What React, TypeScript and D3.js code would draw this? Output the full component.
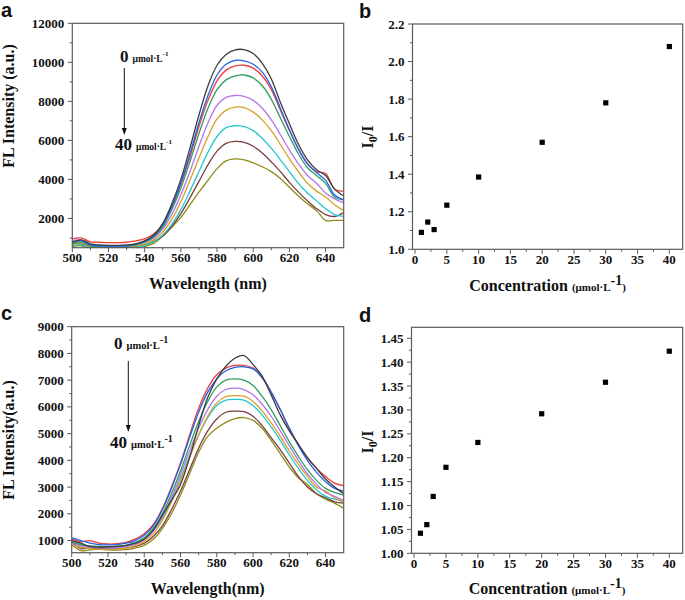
import React from 'react';
import * as d3 from 'd3';

// ---------- data ----------
const wavelengths = [500, 505, 510, 515, 520, 525, 530, 535, 540, 545, 550, 555, 560, 565, 570, 575, 580, 585, 590, 595, 600, 605, 610, 615, 620, 625, 630, 635, 640, 645, 650];

// panel a spectra (0 -> 40 µmol/L)
const aBlack = [750, 900, 700, 640, 620, 620, 640, 700, 850, 1150, 1750, 2750, 4000, 5600, 7300, 8800, 9850, 10400, 10640, 10650, 10450, 9950, 9150, 7950, 6850, 5800, 5000, 4500, 4200, 3500, 3150];
const aBlue = [800, 850, 650, 600, 580, 580, 600, 680, 820, 1100, 1650, 2600, 3800, 5300, 6900, 8300, 9350, 9900, 10100, 10080, 9900, 9500, 8750, 7650, 6550, 5550, 4800, 4350, 3950, 3200, 2950];
const aRed = [950, 1000, 800, 780, 760, 760, 780, 850, 950, 1200, 1700, 2600, 3750, 5150, 6700, 8050, 9050, 9600, 9820, 9850, 9700, 9300, 8600, 7550, 6500, 5550, 4800, 4400, 4300, 3500, 3400];
const aGreen = [700, 800, 600, 560, 540, 540, 560, 640, 780, 1050, 1550, 2450, 3550, 4900, 6350, 7650, 8600, 9100, 9300, 9350, 9200, 8800, 8100, 7150, 6200, 5300, 4600, 4200, 3800, 3100, 2950];
const aPurple = [850, 900, 650, 600, 580, 580, 600, 660, 780, 1000, 1450, 2200, 3200, 4400, 5700, 6900, 7800, 8200, 8300, 8250, 8050, 7650, 7050, 6300, 5500, 4800, 4200, 3800, 3300, 3000, 2800];
const aOrange = [650, 750, 550, 530, 520, 520, 540, 600, 700, 900, 1300, 1950, 2850, 3950, 5100, 6200, 7100, 7550, 7700, 7680, 7450, 7050, 6500, 5800, 5050, 4400, 3800, 3400, 3100, 2700, 2400];
const aCyan = [600, 650, 500, 480, 470, 470, 480, 530, 620, 800, 1150, 1700, 2450, 3400, 4400, 5400, 6200, 6650, 6750, 6700, 6500, 6100, 5600, 5000, 4400, 3800, 3300, 2900, 2500, 2200, 2100];
const aBrown = [700, 700, 550, 500, 480, 480, 500, 550, 650, 820, 1100, 1600, 2250, 3050, 3900, 4750, 5450, 5850, 5950, 5900, 5700, 5350, 4900, 4400, 3850, 3350, 2900, 2500, 2200, 2100, 2300];
const aOlive = [550, 600, 450, 430, 420, 420, 430, 480, 560, 720, 1100, 1550, 2050, 2700, 3350, 3950, 4550, 4950, 5050, 5000, 4850, 4650, 4400, 4050, 3600, 3150, 2750, 2400, 1900, 1900, 1900];

// panel c spectra (0 -> 40 µmol/L)
const cBlack = [1000, 900, 780, 750, 760, 780, 820, 900, 1050, 1400, 1950, 2500, 3100, 4100, 5300, 6350, 7050, 7520, 7820, 7920, 7580, 7150, 6450, 5700, 5100, 4600, 4100, 3700, 3300, 3000, 2750];
const cRed = [1050, 950, 1000, 900, 870, 880, 930, 1050, 1250, 1600, 2200, 3000, 3900, 4950, 5950, 6700, 7200, 7450, 7550, 7550, 7450, 7100, 6550, 5900, 5200, 4600, 4100, 3700, 3400, 3150, 3050];
const cBlue = [1100, 1000, 900, 850, 840, 850, 900, 1000, 1200, 1550, 2150, 2950, 3850, 4850, 5800, 6550, 7050, 7350, 7480, 7500, 7420, 7100, 6550, 5900, 5200, 4550, 4000, 3550, 3200, 2950, 2850];
const cGreen = [950, 850, 800, 780, 770, 780, 820, 920, 1100, 1450, 2000, 2750, 3600, 4550, 5450, 6200, 6750, 7000, 7050, 7000, 6800, 6400, 5900, 5300, 4700, 4150, 3650, 3250, 2950, 2800, 2700];
const cPurple = [900, 800, 750, 730, 720, 730, 770, 860, 1030, 1350, 1900, 2600, 3450, 4350, 5200, 5900, 6400, 6650, 6700, 6650, 6450, 6100, 5650, 5100, 4550, 4000, 3500, 3100, 2800, 2650, 2500];
const cOrange = [850, 750, 700, 680, 680, 690, 720, 800, 960, 1250, 1750, 2450, 3250, 4100, 4950, 5650, 6150, 6380, 6420, 6400, 6200, 5850, 5400, 4900, 4350, 3850, 3400, 3000, 2850, 2600, 2450];
const cCyan = [950, 850, 780, 760, 750, 760, 790, 880, 1050, 1350, 1850, 2500, 3300, 4150, 4950, 5600, 6050, 6250, 6280, 6250, 6050, 5700, 5250, 4750, 4200, 3700, 3250, 2900, 2650, 2550, 2450];
const cBrown = [950, 700, 720, 700, 700, 700, 720, 780, 900, 1150, 1550, 2150, 2850, 3650, 4450, 5100, 5550, 5800, 5840, 5820, 5650, 5300, 4850, 4400, 3900, 3400, 3000, 2750, 2600, 2450, 2400];
const cOlive = [850, 620, 650, 680, 650, 640, 660, 720, 820, 1050, 1450, 2000, 2700, 3500, 4300, 4900, 5200, 5420, 5560, 5600, 5500, 5200, 4750, 4250, 3750, 3350, 3100, 2750, 2550, 2400, 2200];

const seriesColors = ['#3d3d3d', '#1f62e6', '#f23c3c', '#2e9e5e', '#b674e6', '#d6a026', '#24c6d0', '#7a3d3d', '#8e8c16'];

const concentrations = [1, 2, 3, 5, 10, 20, 30, 40];
const bRatio = [1.09, 1.145, 1.105, 1.235, 1.385, 1.57, 1.78, 2.08];
const dRatio = [1.042, 1.06, 1.119, 1.18, 1.232, 1.292, 1.358, 1.423];

const specXTicks = [500, 520, 540, 560, 580, 600, 620, 640];
const aYTicks = [2000, 4000, 6000, 8000, 10000, 12000];
const cYTicks = [1000, 2000, 3000, 4000, 5000, 6000, 7000, 8000, 9000];
const concXTicks = [0, 5, 10, 15, 20, 25, 30, 35, 40];
const bYTicks = [1.0, 1.2, 1.4, 1.6, 1.8, 2.0, 2.2];
const dYTicks = [1.0, 1.05, 1.1, 1.15, 1.2, 1.25, 1.3, 1.35, 1.4, 1.45];

// ---------- styling ----------
const SERIF = "'Liberation Serif', 'Times New Roman', Times, serif";
const SANS = "'Liberation Sans', Arial, Helvetica, sans-serif";
const FRAME = '#5a5a5a';
const serifBold = { fontFamily: SERIF, fontWeight: 700 } as React.CSSProperties;

type Box = { l: number; r: number; t: number; b: number };

function Frame({ box }: { box: Box }) {
  return (
    <rect x={box.l} y={box.t} width={box.r - box.l} height={box.b - box.t} fill="none" stroke={FRAME} strokeWidth={1.2} />
  );
}

function Axes({ box, x, y, xTicks, xMinor, yTicks, yMinor, xFmt, yFmt }: any) {
  return (
    <g style={{ ...serifBold, fontSize: 13 }} fill="#111">
      {xTicks.map((t: number) => (
        <g key={'xt' + t}>
          <line x1={x(t)} x2={x(t)} y1={box.b} y2={box.b + 4.5} stroke={FRAME} strokeWidth={1} />
          <text x={x(t)} y={box.b + 14.5} textAnchor="middle">{xFmt(t)}</text>
        </g>
      ))}
      {xMinor.map((t: number) => (
        <line key={'xm' + t} x1={x(t)} x2={x(t)} y1={box.b} y2={box.b + 2.5} stroke={FRAME} strokeWidth={1} />
      ))}
      {yTicks.map((t: number) => (
        <g key={'yt' + t}>
          <line x1={box.l - 4.5} x2={box.l} y1={y(t)} y2={y(t)} stroke={FRAME} strokeWidth={1} />
          <text x={box.l - 8} y={y(t) + 4.5} textAnchor="end">{yFmt(t)}</text>
        </g>
      ))}
      {yMinor.map((t: number) => (
        <line key={'ym' + t} x1={box.l - 2.5} x2={box.l} y1={y(t)} y2={y(t)} stroke={FRAME} strokeWidth={1} />
      ))}
    </g>
  );
}

function SpectrumPanel({ id, box, yDomain, yTicks, yMinor, series, yLabel, yLabelY, yLabelSize, xLabel, xLabelY, letter, letterY, ann }: any) {
  const x = d3.scaleLinear().domain([500, 650]).range([box.l, box.r]);
  const y = d3.scaleLinear().domain(yDomain).range([box.b, box.t]);
  const line = d3
    .line<number>()
    .x((_, i) => x(wavelengths[i]))
    .y((v) => y(v))
    .curve(d3.curveCatmullRom.alpha(0.5));
  const xMinor = d3.range(510, 650, 20);
  return (
    <g>
      <defs>
        <clipPath id={id}>
          <rect x={box.l} y={box.t} width={box.r - box.l} height={box.b - box.t} />
        </clipPath>
      </defs>
      <g clipPath={`url(#${id})`}>
        {series
          .slice()
          .reverse()
          .map((s: number[], i: number) => (
            <path key={i} d={line(s) || ''} fill="none" stroke={seriesColors[series.length - 1 - i]} strokeWidth={1.3} />
          ))}
      </g>
      <Frame box={box} />
      <Axes box={box} x={x} y={y} xTicks={specXTicks} xMinor={xMinor} yTicks={yTicks} yMinor={yMinor} xFmt={(t: number) => String(t)} yFmt={(t: number) => String(t)} />
      <text x={(box.l + box.r) / 2} y={xLabelY} textAnchor="middle" style={{ ...serifBold, fontSize: 16 }} fill="#111">{xLabel}</text>
      <text transform={`translate(14,${yLabelY}) rotate(-90)`} textAnchor="middle" style={{ ...serifBold, fontSize: yLabelSize }} fill="#111">{yLabel}</text>
      <text x={1} y={letterY} style={{ fontFamily: SANS, fontWeight: 700, fontSize: 20 }} fill="#111">{letter}</text>
      {/* annotation */}
      <g style={serifBold} fill="#111">
        <text x={ann.x0} y={ann.y0}>
          <tspan style={{ fontSize: 17 }}>0</tspan>
          <tspan style={{ fontSize: ann.unit }} dx={4}>μmol·L</tspan>
          <tspan style={{ fontSize: ann.sup }} dy={-6}>-1</tspan>
        </text>
        <text x={ann.x40} y={ann.y40}>
          <tspan style={{ fontSize: 17 }}>40</tspan>
          <tspan style={{ fontSize: ann.unit }} dx={4}>μmol·L</tspan>
          <tspan style={{ fontSize: ann.sup }} dy={-6}>-1</tspan>
        </text>
        <line x1={ann.ax} x2={ann.ax} y1={ann.ay1} y2={ann.ay2 - 6} stroke="#111" strokeWidth={1} />
        <path d={`M${ann.ax - 2.5},${ann.ay2 - 7} L${ann.ax + 2.5},${ann.ay2 - 7} L${ann.ax},${ann.ay2} Z`} fill="#111" />
      </g>
    </g>
  );
}

function RatioPanel({ box, yDomain, yTicks, yMinor, values, yFmt, xLabelY, yLabelY, letter, letterY }: any) {
  const x = d3.scaleLinear().domain([-0.4, 42.1]).range([box.l, box.r]);
  const y = d3.scaleLinear().domain(yDomain).range([box.b, box.t]);
  const xMinor = d3.range(2.5, 40, 5);
  return (
    <g>
      <Frame box={box} />
      <Axes box={box} x={x} y={y} xTicks={concXTicks} xMinor={xMinor} yTicks={yTicks} yMinor={yMinor} xFmt={(t: number) => String(t)} yFmt={yFmt} />
      {concentrations.map((c, i) => (
        <rect key={i} x={x(c) - 2.6} y={y(values[i]) - 2.6} width={5.2} height={5.2} fill="#000" />
      ))}
      <text x={(box.l + box.r) / 2} y={xLabelY} textAnchor="middle" style={serifBold} fill="#111">
        <tspan style={{ fontSize: 16 }}>Concentration </tspan>
        <tspan style={{ fontSize: 11 }}>(μmol·L</tspan>
        <tspan style={{ fontSize: 14 }} dy={-6}>-1</tspan>
        <tspan style={{ fontSize: 11 }} dy={6}>)</tspan>
      </text>
      <text transform={`translate(373,${yLabelY}) rotate(-90)`} textAnchor="middle" style={serifBold} fill="#111">
        <tspan style={{ fontSize: 16 }}>I</tspan>
        <tspan style={{ fontSize: 12 }} dy={4}>0</tspan>
        <tspan style={{ fontSize: 16 }} dy={-4}>/I</tspan>
      </text>
      <text x={359} y={letterY} style={{ fontFamily: SANS, fontWeight: 700, fontSize: 20 }} fill="#111">{letter}</text>
    </g>
  );
}

export default function App() {
  const aSeries = [aBlack, aBlue, aRed, aGreen, aPurple, aOrange, aCyan, aBrown, aOlive];
  const cSeries = [cBlack, cBlue, cRed, cGreen, cPurple, cOrange, cCyan, cBrown, cOlive];
  return (
    <svg width={685} height={600} style={{ position: 'absolute', left: 0, top: 0, background: '#fff' }}>
      <rect width={685} height={600} fill="#fff" />
      <SpectrumPanel
        id="clipA"
        box={{ l: 72.3, r: 343.7, t: 23.3, b: 247.7 }}
        yDomain={[500, 12000]}
        yTicks={aYTicks}
        yMinor={d3.range(1000, 12000, 2000)}
        series={aSeries}
        yLabel="FL Intensity (a.u.)"
        yLabelY={106}
        yLabelSize={16}
        xLabel="Wavelength (nm)"
        xLabelY={289}
        letter="a"
        letterY={17}
        ann={{ x0: 120, y0: 62, x40: 115, y40: 150, ax: 124.3, ay1: 68, ay2: 135, unit: 9.5, sup: 7 }}
      />
      <SpectrumPanel
        id="clipC"
        box={{ l: 71.7, r: 343.7, t: 326.7, b: 552.7 }}
        yDomain={[545, 9000]}
        yTicks={cYTicks}
        yMinor={d3.range(1500, 9000, 1000)}
        series={cSeries}
        yLabel="FL Intensity(a.u.)"
        yLabelY={440}
        yLabelSize={16}
        xLabel="Wavelength(nm)"
        xLabelY={594}
        letter="c"
        letterY={320}
        ann={{ x0: 114, y0: 349, x40: 110, y40: 448, ax: 128.3, ay1: 361, ay2: 432, unit: 10.5, sup: 10 }}
      />
      <RatioPanel
        box={{ l: 412.5, r: 682.7, t: 24, b: 249.3 }}
        yDomain={[1.0, 2.2]}
        yTicks={bYTicks}
        yMinor={d3.range(1.1, 2.2, 0.2)}
        values={bRatio}
        yFmt={(t: number) => t.toFixed(1)}
        xLabelY={291}
        yLabelY={137}
        letter="b"
        letterY={18}
      />
      <RatioPanel
        box={{ l: 411.5, r: 682.7, t: 327.3, b: 553.3 }}
        yDomain={[1.0, 1.473]}
        yTicks={dYTicks}
        yMinor={d3.range(1.025, 1.46, 0.05)}
        values={dRatio}
        yFmt={(t: number) => t.toFixed(2)}
        xLabelY={594}
        yLabelY={442}
        letter="d"
        letterY={322}
      />
    </svg>
  );
}
